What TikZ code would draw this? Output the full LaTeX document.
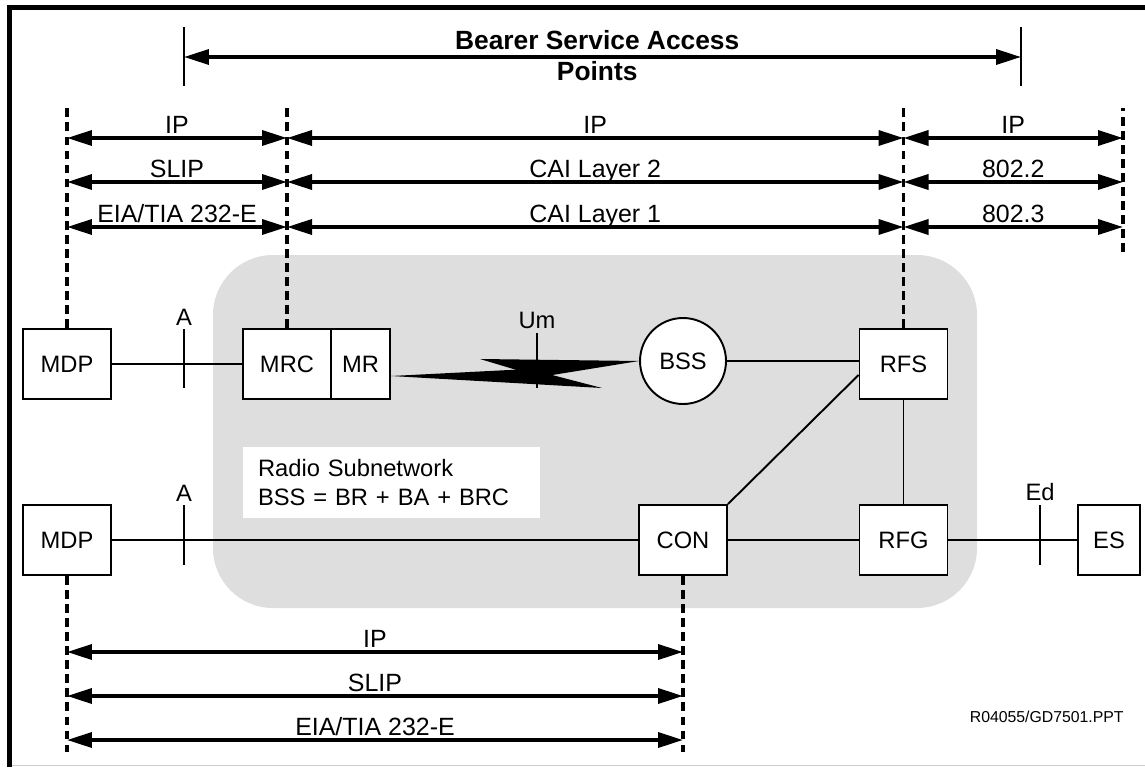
\documentclass[tikz,border=0pt]{standalone}
\usepackage{fontspec}
\setmainfont{Liberation Sans}
\usetikzlibrary{arrows.meta,positioning,calc}
\tikzset{
  unit/.style={draw,fill=white,line width=1.1pt,minimum width=1.76cm,minimum height=1.4cm,
    inner sep=0pt,font=\fontsize{13.5}{16}\selectfont},
  wire/.style={line width=1.1pt},
  tick/.style={line width=1pt},
  cut/.style={line width=2.1pt,dash pattern=on 5pt off 3pt},
  dimarrow/.style={{Triangle[length=0.5cm,width=0.3cm]}-{Triangle[length=0.5cm,width=0.3cm]},line width=2pt},
  lbl/.style={anchor=base,yshift=2.5pt,inner sep=0pt,font=\fontsize{14.2}{16}\selectfont},
  tag/.style={font=\fontsize{13.5}{16}\selectfont,inner sep=2pt}
}
\begin{document}
\begin{tikzpicture}[x=0.02cm,y=-0.02cm]
\useasboundingbox (0,0) rectangle (1145,767);
% frame
\draw[line width=2.8pt] (9.5,767) -- (9.5,7.5) -- (1145,7.5);
\draw[black!20,line width=0.6pt] (12,765.5) -- (1145,765.5);
% radio subnetwork
\fill[black!13,rounded corners=1.2cm] (213,255) rectangle (977,608);

% units
\node[unit] (mdp1) at (67,364) {MDP};
\node[unit] (mrc) at (287,364) {MRC};
\node[unit,minimum width=1.18cm,right=-1.1pt of mrc] (mr) {MR};
\node[unit,circle,minimum size=1.72cm] (bss) at (683,361) {BSS};
\node[unit] (rfs) at (903.5,364) {RFS};
\node[unit] (mdp2) at (67,540) {MDP};
\node[unit] (con) at (683,540) {CON};
\node[unit] (rfg) at (903.5,540) {RFG};
\node[unit,minimum width=1.24cm] (es) at (1109,540) {ES};
\node[fill=white,minimum width=5.94cm,minimum height=1.42cm,inner xsep=0.3cm,
  text width=5.34cm,align=left,font=\fontsize{13.5}{16.5}\selectfont] (note) at (391.5,482.5)
  {Radio Subnetwork\\BSS = BR + BA + BRC};

% connectors
\draw[wire] (mdp1) -- (mrc);
\coordinate (l0) at ($(mr.east)+(0,12)$);
\fill (l0) -- (529,369) -- (602,388) -- cycle;
\fill (480,359) -- (bss.west) -- (540,377) -- cycle;
\draw[wire] (bss.east) -- (bss.east -| rfs.west);
\draw[wire] (con.north east) -- ($(rfs.west)+(0,11)$);
\draw[wire] (rfs) -- (rfg);
\draw[wire] (mdp2) -- (con);
\draw[wire] (con) -- (rfg);
\draw[wire] (rfg) -- (es);

% reference points
\coordinate[label={[tag]above:A}] (a1) at (184,329);
\draw[tick] (a1) -- ++(0,59);
\coordinate[label={[tag]above:Um}] (um) at (537,333);
\draw[tick] (um) -- ++(0,55);
\coordinate[label={[tag]above:A}] (a2) at (184,505);
\draw[tick] (a2) -- ++(0,60);
\coordinate[label={[tag]above:Ed}] (ed) at (1040,505);
\draw[tick] (ed) -- ++(0,60);

% protocol boundaries
\coordinate (top) at (0,108);
\coordinate (bot) at (0,752);
\coordinate (far) at (1123,252);
\draw[cut] (mdp1.north) -- (mdp1.north |- top);
\draw[cut] (mrc.north) -- (mrc.north |- top);
\draw[cut] (rfs.north) -- (rfs.north |- top);
\draw[cut] (far) -- (far |- top);
\draw[cut] (mdp2.south) -- (mdp2.south |- bot);
\draw[cut] (con.south) -- (con.south |- bot);

\foreach \y/\p/\q/\r in {138/IP/IP/IP, 182/SLIP/{CAI Layer 2}/802.2,
    227/{EIA/TIA 232-E}/{CAI Layer 1}/802.3}{
  \draw[dimarrow] (mdp1.north |- 0,\y) -- node[lbl]{\p} (mrc.north |- 0,\y);
  \draw[dimarrow] (mrc.north |- 0,\y) -- node[lbl]{\q} (rfs.north |- 0,\y);
  \draw[dimarrow] (rfs.north |- 0,\y) -- node[lbl]{\r} (far |- 0,\y);
}
\foreach \y/\p in {652/IP, 696/SLIP, 740/{EIA/TIA 232-E}}{
  \draw[dimarrow] (mdp2.south |- 0,\y) -- node[lbl]{\p} (con.south |- 0,\y);
}

% bearer service access points
\coordinate (ba) at (184,57);
\coordinate (bb) at (1021,57);
\draw[tick] ($(ba)+(0,-30)$) -- ($(ba)+(0,29)$);
\draw[tick] ($(bb)+(0,-30)$) -- ($(bb)+(0,29)$);
\draw[dimarrow] (ba) --
  node[lbl,xshift=-3pt,yshift=2pt,font=\fontsize{15}{17}\selectfont\bfseries]{Bearer Service Access}
  node[lbl,xshift=-3pt,yshift=-16pt,font=\fontsize{15}{17}\selectfont\bfseries]{Points} (bb);

\node[anchor=base east,inner sep=0pt,font=\fontsize{9}{11}\selectfont] (ref) at (1124,722)
  {R04055/GD7501.PPT};
\end{tikzpicture}
\end{document}
